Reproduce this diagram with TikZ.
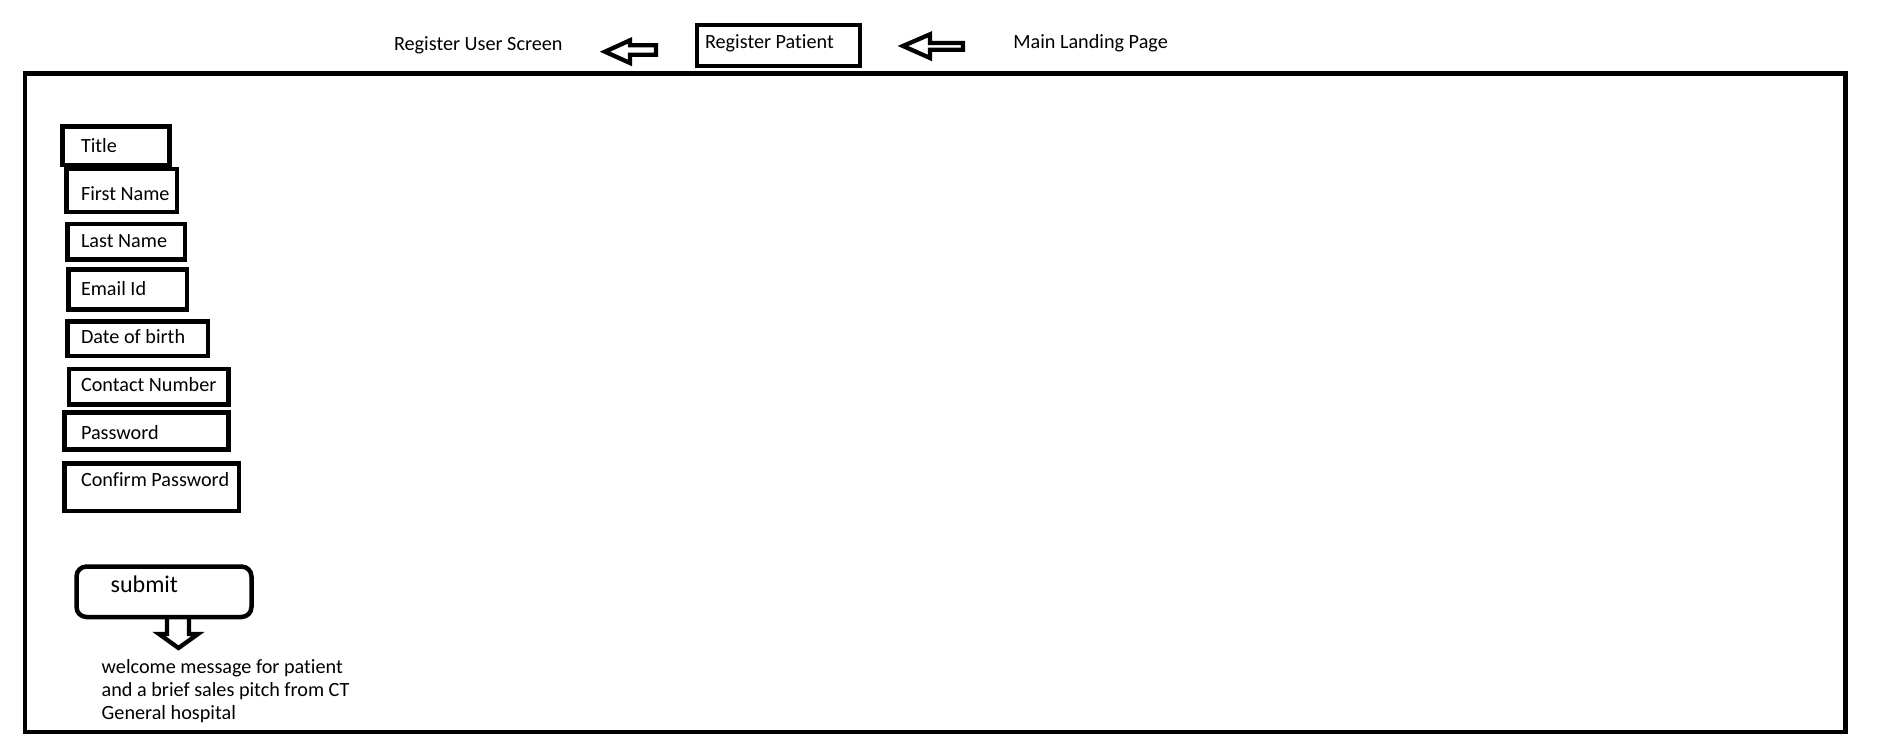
\documentclass[tikz,border=0pt]{standalone}
\usepackage{fontspec}
\setmainfont[Ligatures={NoCommon}]{Carlito}
\begin{document}
\begin{tikzpicture}[x=1pt,y=-1pt,
  every node/.style={inner sep=0pt, outer sep=0pt},
  txt/.style={font=\fontsize{20.2}{23.3}\selectfont, anchor=base west},
  field/.style={draw, line width=4.5pt, anchor=north west, line join=miter},
  blockarrow/.style={draw, line width=4.3pt, line join=miter},
  frame/.style={draw, line width=4.5pt}]
  \useasboundingbox (0,0) rectangle (1884,744);

  % page frame
  \draw[frame] (25,73.3) rectangle (1845.5,732);

  % breadcrumb row
  \node[txt] (userscreen) at (394,50) {Register User Screen};
  \node[draw, line width=4pt, anchor=north west, minimum width=162.7pt, minimum height=41pt] (regbox) at (697,25.3) {};
  \node[txt] (regpatient) at (705,48.3) {Register Patient};
  \node[txt] (landing) at (1013.3,48.3) {Main Landing Page};

  \draw[blockarrow] (605,51.7) -- (630,40.3) -- (630,45.2) -- (656,45.2) -- (656,54.8)
    -- (630,54.8) -- (630,63) -- cycle;
  \draw[blockarrow] (903,46) -- (930,34.3) -- (930,43) -- (963,43) -- (963,49.7)
    -- (930,49.7) -- (930,58) -- cycle;

  % form fields
  \node[field, minimum width=107.2pt, minimum height=38.7pt] (ftitle) at (62.3,126.3) {};
  \node[field, minimum width=110.5pt, minimum height=42.8pt] (ffirst) at (66.5,169) {};
  \node[field, minimum width=117.5pt, minimum height=35.5pt] (flast) at (67.5,224) {};
  \node[field, minimum width=118.7pt, minimum height=40pt] (femail) at (68.3,269.5) {};
  \node[field, minimum width=140.5pt, minimum height=34.5pt] (fdob) at (67.3,321.5) {};
  \node[field, minimum width=159.5pt, minimum height=35.5pt] (fcontact) at (69,369) {};
  \node[field, minimum width=164.2pt, minimum height=37.2pt] (fpass) at (64.3,412.3) {};
  \node[field, minimum width=174.5pt, minimum height=47.7pt] (fconfirm) at (64.3,463.3) {};

  \node[txt] (ttitle) at (81,152) {Title};
  \node[txt] (tfirst) at (81,200) {First Name};
  \node[txt] (tlast) at (81,247.5) {Last Name};
  \node[txt] (temail) at (81,295.2) {Email Id};
  \node[txt] (tdob) at (81,343.4) {Date of birth};
  \node[txt] (tcontact) at (81,391.6) {Contact Number};
  \node[txt] (tpass) at (81,439.4) {Password};
  \node[txt] (tconfirm) at (81,486.8) {Confirm Password};

  % submit button and result
  \node[draw, line width=4.5pt, rounded corners=10pt, anchor=north west,
        minimum width=175pt, minimum height=50.5pt] (submit) at (76.5,566.5) {};
  \node[font=\fontsize{24}{28}\selectfont, anchor=base west] (tsubmit) at (110.7,592.7) {submit};

  \draw[blockarrow] (167,617) -- (167,634) -- (159,634) -- (178.5,648) -- (198,634)
    -- (189,634) -- (189,617);

  \node[txt] (welcome1) at (101.7,673.3) {welcome message for patient};
  \node[txt] (welcome2) at (101.7,696.7) {and a brief sales pitch from CT};
  \node[txt] (welcome3) at (101.7,719.3) {General hospital};
\end{tikzpicture}
\end{document}
